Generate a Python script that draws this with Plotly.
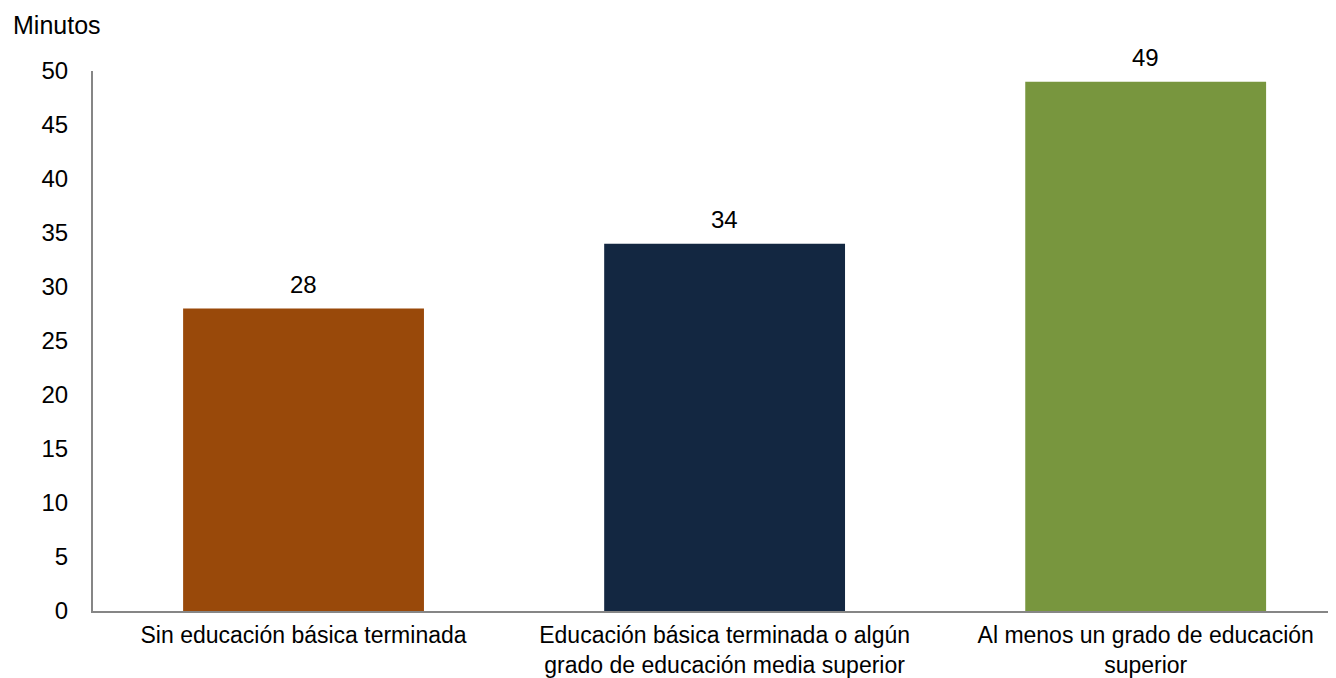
import plotly.graph_objects as go

categories = ["Sin educación básica terminada",
              "Educación básica terminada o algún<br>grado de educación media superior",
              "Al menos un grado de educación<br>superior"]
values = [28, 34, 49]
colors = ["#99490A", "#132741", "#78963E"]
y_ticks = [0, 5, 10, 15, 20, 25, 30, 35, 40, 45, 50]

fig = go.Figure(go.Bar(
    x=categories, y=values, marker_color=colors, marker_line_width=0,
))
annotations = [dict(x=c, y=v, text=str(v), xref="x", yref="y", showarrow=False,
                    yanchor="bottom", yshift=9, font=dict(size=24))
               for c, v in zip(categories, values)]
annotations.append(dict(text="Minutos", xref="paper", yref="paper", x=-0.066, y=1.085,
                        xanchor="left", yanchor="middle", showarrow=False,
                        font=dict(size=25)))
fig.update_layout(
    width=1328, height=670,
    margin=dict(l=85, r=0, t=63, b=65),
    plot_bgcolor="white", paper_bgcolor="white",
    font=dict(family="Liberation Sans, Arial, sans-serif", color="#000000"),
    bargap=0.428, showlegend=False,
    annotations=annotations,
)
fig.update_yaxes(range=[0, 50], tickvals=y_ticks, showgrid=False, showline=True,
                 linecolor="#868686", linewidth=2, ticks="", tickfont=dict(size=24),
                 ticklabelstandoff=18, zeroline=False)
fig.update_xaxes(range=[-0.5, 2.452], showline=True, linecolor="#868686", linewidth=2,
                 ticks="", tickfont=dict(size=23), ticklabelstandoff=2)
fig.write_html("out.html")
